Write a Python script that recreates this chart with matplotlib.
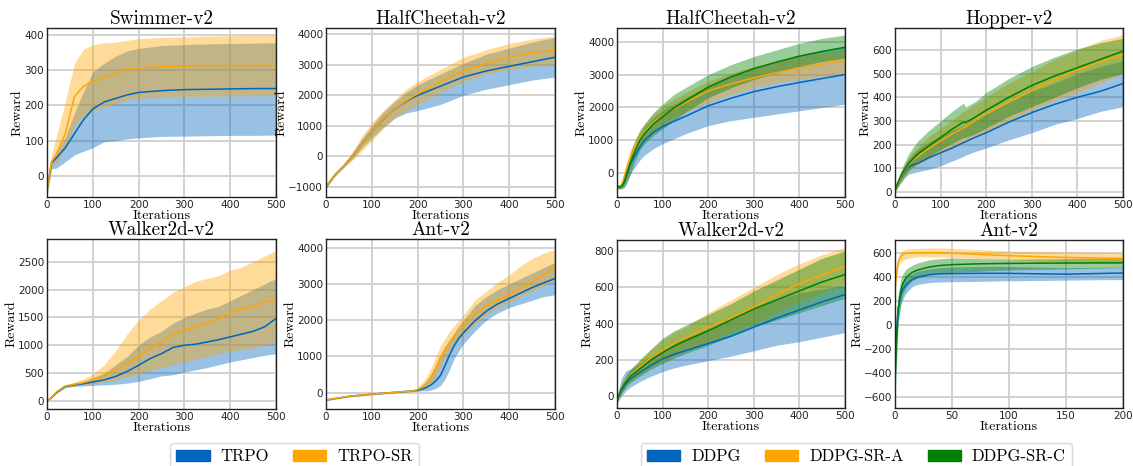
import numpy as np
import matplotlib
matplotlib.use("Agg")
import matplotlib.pyplot as plt
from matplotlib.patches import Patch

# colours
BLUE = "#0066bb"
ORANGE = "#ffa500"
GREEN = "#008000"

# ---- TRPO panels ----
sw_x = [0, 10, 20, 40, 60, 80, 100, 125, 150, 175, 200, 250, 300, 350, 400, 450, 500]
sw_trpo = [-40, 38, 50, 80, 120, 160, 190, 210, 220, 230, 237, 242, 245, 246, 247, 248, 248]
sw_trpo_lo = [-55, 20, 22, 40, 60, 70, 80, 97, 100, 105, 108, 112, 113, 114, 115, 115, 116]
sw_trpo_hi = [-25, 50, 65, 110, 180, 240, 295, 320, 340, 355, 362, 370, 373, 375, 376, 377, 378]
sw_sr = [-40, 40, 60, 120, 225, 255, 268, 280, 290, 303, 307, 310, 312, 313, 313, 314, 314]
sw_sr_lo = [-55, 25, 35, 80, 140, 170, 185, 195, 205, 215, 220, 224, 226, 226, 227, 227, 228]
sw_sr_hi = [-25, 60, 110, 210, 320, 360, 372, 378, 380, 385, 390, 393, 395, 397, 398, 399, 400]

hc_x = [0, 10, 20, 40, 60, 80, 100, 125, 150, 175, 200, 250, 300, 350, 400, 450, 500]
hc_trpo = [-1000, -800, -600, -300, 50, 450, 800, 1200, 1550, 1800, 2000, 2300, 2600, 2800, 2950, 3100, 3250]
hc_trpo_lo = [-1050, -850, -650, -350, -50, 300, 600, 950, 1250, 1420, 1500, 1700, 2000, 2200, 2350, 2500, 2600]
hc_trpo_hi = [-950, -750, -550, -250, 150, 600, 1000, 1450, 1800, 2100, 2350, 2700, 3050, 3350, 3550, 3750, 3900]
hc_sr = [-1000, -800, -600, -300, 50, 450, 800, 1200, 1550, 1820, 2050, 2450, 2800, 3050, 3250, 3400, 3480]
hc_sr_lo = [-1050, -850, -650, -350, -100, 200, 500, 900, 1250, 1500, 1700, 2100, 2450, 2700, 2850, 2950, 3000]
hc_sr_hi = [-950, -750, -550, -250, 200, 700, 1100, 1500, 1850, 2200, 2450, 2850, 3250, 3500, 3700, 3850, 3950]

wk_x = [0, 10, 20, 40, 60, 80, 100, 125, 150, 175, 200, 225, 250, 275, 300, 325, 350, 375, 400, 425, 450, 475, 500]
wk_trpo = [0, 60, 150, 260, 290, 310, 340, 380, 440, 530, 640, 760, 850, 960, 1000, 1020, 1060, 1100, 1150, 1200, 1250, 1330, 1480]
wk_trpo_lo = [0, 50, 130, 240, 260, 270, 280, 290, 300, 320, 350, 400, 450, 470, 520, 560, 600, 650, 700, 740, 780, 820, 850]
wk_trpo_hi = [0, 70, 170, 280, 320, 360, 420, 500, 650, 800, 1000, 1150, 1250, 1400, 1500, 1580, 1650, 1700, 1800, 1900, 2000, 2100, 2200]
wk_sr = [0, 60, 160, 270, 300, 330, 380, 450, 560, 680, 800, 950, 1050, 1200, 1280, 1330, 1400, 1480, 1580, 1650, 1700, 1780, 1820]
wk_sr_lo = [0, 50, 140, 250, 270, 290, 310, 340, 380, 430, 480, 550, 600, 650, 700, 750, 800, 850, 900, 920, 950, 1000, 1050]
wk_sr_hi = [0, 70, 180, 290, 340, 400, 480, 650, 900, 1200, 1450, 1650, 1800, 1950, 2050, 2150, 2200, 2250, 2350, 2400, 2500, 2600, 2700]

ant_x = [0, 25, 50, 100, 150, 190, 200, 210, 220, 230, 240, 250, 260, 270, 280, 290, 300,
         325, 350, 375, 400, 425, 450, 475, 500]
ant_trpo = [-200, -150, -100, -40, 10, 50, 70, 100, 150, 220, 330, 480, 750, 1050, 1300, 1500, 1650,
            1980, 2250, 2450, 2600, 2750, 2900, 3030, 3150]
ant_trpo_lo = [-220, -170, -120, -60, -10, 30, 40, 50, 50, 80, 120, 200, 380, 650, 950, 1150, 1350,
               1700, 2000, 2200, 2350, 2450, 2550, 2650, 2700]
ant_trpo_hi = [-180, -130, -80, -20, 30, 80, 130, 220, 300, 500, 750, 1000, 1250, 1450, 1650, 1850, 2000,
               2400, 2650, 2850, 3000, 3150, 3300, 3450, 3600]
ant_sr = [-200, -150, -100, -40, 10, 50, 90, 150, 280, 450, 700, 980, 1200, 1400, 1550, 1700, 1820,
          2150, 2400, 2550, 2700, 2900, 3050, 3250, 3450]
ant_sr_lo = [-220, -170, -120, -60, -10, 30, 60, 90, 120, 250, 450, 700, 950, 1150, 1300, 1450, 1600,
             1900, 2150, 2350, 2500, 2650, 2800, 2950, 3100]
ant_sr_hi = [-180, -130, -80, -20, 30, 80, 130, 280, 450, 700, 1000, 1300, 1500, 1700, 1850, 2000, 2150,
             2550, 2800, 3050, 3250, 3500, 3700, 3850, 3950]

# ---- DDPG panels ----
dhc_x = [0, 5, 10, 15, 20, 30, 40, 50, 60, 80, 100, 125, 150, 200, 250, 300, 350, 400, 450, 500]
dhc_ddpg = [-400, -420, -380, -250, -50, 300, 550, 800, 1000, 1250, 1420, 1580, 1730, 2050, 2280, 2480, 2630, 2760, 2880, 3000]
dhc_ddpg_lo = [-450, -470, -450, -400, -300, 0, 200, 400, 550, 750, 900, 1050, 1200, 1450, 1600, 1700, 1800, 1900, 2000, 2100]
dhc_ddpg_hi = [-350, -370, -300, -100, 200, 600, 900, 1150, 1400, 1700, 1900, 2100, 2300, 2650, 2950, 3200, 3400, 3600, 3750, 3850]
dhc_a = [-400, -420, -350, -150, 100, 500, 800, 1050, 1250, 1550, 1750, 1950, 2150, 2500, 2720, 2900, 3060, 3200, 3320, 3420]
dhc_a_lo = [-450, -480, -450, -300, -100, 250, 550, 800, 1000, 1300, 1500, 1700, 1850, 2150, 2400, 2600, 2750, 2850, 2950, 3000]
dhc_a_hi = [-350, -350, -250, 0, 300, 750, 1050, 1300, 1500, 1800, 2050, 2250, 2450, 2800, 3050, 3250, 3400, 3550, 3650, 3750]
dhc_c = [-400, -420, -400, -300, -100, 350, 700, 1000, 1200, 1500, 1720, 1980, 2200, 2620, 2930, 3180, 3380, 3560, 3700, 3830]
dhc_c_lo = [-450, -480, -480, -450, -350, 0, 400, 700, 900, 1150, 1350, 1600, 1850, 2300, 2600, 2850, 3050, 3250, 3400, 3500]
dhc_c_hi = [-350, -350, -300, -150, 150, 650, 1000, 1300, 1500, 1850, 2100, 2400, 2600, 3000, 3300, 3550, 3750, 3950, 4100, 4200]

hop_x = [0, 10, 20, 30, 40, 50, 75, 100, 125, 150, 155, 175, 200, 250, 300, 350, 400, 450, 500]
hop_ddpg = [10, 50, 80, 105, 115, 120, 145, 165, 185, 208, 212, 230, 250, 295, 335, 370, 400, 425, 458]
hop_ddpg_lo = [0, 30, 55, 75, 80, 85, 95, 110, 130, 150, 155, 170, 185, 220, 250, 285, 310, 340, 360]
hop_ddpg_hi = [20, 70, 110, 140, 160, 180, 210, 235, 260, 280, 285, 305, 330, 380, 425, 460, 500, 530, 555]
hop_a = [10, 50, 85, 115, 135, 150, 185, 215, 245, 270, 275, 300, 330, 380, 430, 475, 515, 550, 580]
hop_a_lo = [0, 30, 60, 85, 100, 115, 140, 165, 185, 205, 210, 230, 255, 300, 345, 385, 420, 460, 500]
hop_a_hi = [20, 70, 110, 145, 170, 190, 235, 270, 305, 340, 345, 370, 400, 460, 510, 560, 600, 640, 665]
hop_c = [10, 55, 90, 120, 140, 160, 195, 230, 265, 295, 293, 315, 345, 400, 450, 490, 525, 560, 595]
hop_c_lo = [0, 35, 65, 90, 105, 120, 150, 180, 205, 230, 230, 245, 270, 320, 360, 400, 440, 475, 500]
hop_c_hi = [20, 75, 120, 160, 190, 215, 260, 300, 340, 375, 360, 380, 420, 480, 530, 570, 605, 630, 650]

dwk_x = [0, 10, 20, 30, 50, 75, 100, 125, 150, 200, 250, 300, 350, 400, 450, 500]
dwk_ddpg = [-20, 30, 70, 95, 130, 170, 205, 230, 250, 290, 330, 380, 430, 475, 520, 560]
dwk_ddpg_lo = [-40, 0, 30, 50, 80, 110, 135, 155, 170, 195, 220, 250, 280, 300, 325, 350]
dwk_ddpg_hi = [0, 100, 140, 150, 180, 220, 260, 290, 320, 370, 420, 480, 530, 570, 590, 610]
dwk_a = [-20, 40, 85, 115, 160, 210, 250, 290, 320, 380, 430, 490, 560, 620, 670, 715]
dwk_a_lo = [-30, 20, 60, 85, 120, 160, 190, 220, 250, 300, 350, 400, 460, 520, 570, 620]
dwk_a_hi = [-10, 60, 110, 145, 200, 260, 310, 350, 380, 460, 530, 600, 670, 730, 780, 820]
dwk_c = [-20, 40, 80, 110, 150, 200, 240, 275, 305, 360, 420, 480, 530, 580, 630, 670]
dwk_c_lo = [-35, 15, 50, 75, 110, 150, 180, 210, 235, 280, 330, 380, 420, 460, 500, 540]
dwk_c_hi = [-5, 70, 115, 150, 200, 260, 320, 360, 390, 450, 510, 580, 640, 700, 760, 800]

dant_x = [0, 1, 2, 3, 5, 7, 10, 15, 20, 30, 40, 50, 75, 100, 125, 150, 175, 200]
dant_ddpg = [-400, -150, 50, 150, 250, 300, 340, 380, 400, 420, 428, 430, 432, 432, 428, 425, 430, 435]
dant_ddpg_lo = [-550, -300, -80, 50, 160, 220, 270, 320, 340, 355, 360, 362, 365, 370, 372, 375, 378, 380]
dant_ddpg_hi = [-250, 0, 150, 250, 330, 370, 400, 430, 450, 470, 480, 485, 490, 490, 485, 480, 482, 485]
dant_a = [300, 400, 480, 530, 570, 590, 600, 603, 605, 605, 603, 600, 590, 580, 572, 565, 560, 558]
dant_a_lo = [250, 350, 430, 480, 520, 540, 555, 565, 570, 570, 568, 565, 555, 545, 535, 528, 522, 518]
dant_a_hi = [350, 450, 530, 580, 610, 625, 635, 640, 640, 645, 645, 640, 630, 620, 615, 610, 608, 605]
dant_c = [-450, -200, 0, 150, 280, 350, 400, 440, 460, 485, 498, 505, 512, 515, 517, 518, 519, 520]
dant_c_lo = [-650, -400, -150, 30, 180, 260, 320, 370, 395, 420, 435, 440, 450, 460, 465, 470, 475, 480]
dant_c_hi = [-250, 0, 150, 270, 380, 430, 470, 500, 520, 545, 555, 560, 555, 550, 552, 555, 558, 560]

SERIF = "cmr10"


def draw_panel(ax, title, x, series, ylim, yticks, xlim=(0, 500), xticks=range(0, 501, 100)):
    for m, lo, hi, c in series:
        ax.fill_between(x, lo, hi, color=c, alpha=0.4, linewidth=0)
    for m, lo, hi, c in series:
        ax.plot(x, m, color=c, linewidth=1.1)
    ax.set_xlim(*xlim)
    ax.set_ylim(*ylim)
    ax.set_xticks(list(xticks))
    ax.set_yticks(yticks)
    ax.grid(True, color="#cfcfcf", linewidth=1.3)
    ax.set_axisbelow(True)
    ax.tick_params(length=0, pad=2, labelsize=7.5, colors="#222222")
    for s in ax.spines.values():
        s.set_color("#222222")
        s.set_linewidth(1.0)
    ax.set_title(title, fontfamily=SERIF, fontsize=13.8, pad=2)
    ax.set_xlabel("Iterations", fontfamily=SERIF, fontsize=10, labelpad=0)
    ax.set_ylabel("Reward", fontfamily=SERIF, fontsize=10, labelpad=0.5)


fig = plt.figure(figsize=(11.33, 4.66), dpi=100)
W, H = 1133.0, 466.0


def add_ax(left, top, right, bottom):
    return fig.add_axes([left / W, 1 - bottom / H, (right - left) / W, (bottom - top) / H])


ax1 = add_ax(47, 28, 276, 197)
ax2 = add_ax(326, 28, 555, 197)
ax3 = add_ax(617, 28, 845, 197)
ax4 = add_ax(895, 28, 1123, 197)
ax5 = add_ax(47, 239, 276, 409)
ax6 = add_ax(326, 239, 555, 409)
ax7 = add_ax(617, 240, 845, 408)
ax8 = add_ax(895, 240, 1123, 408)

draw_panel(ax1, "Swimmer-v2", sw_x,
           [(sw_trpo, sw_trpo_lo, sw_trpo_hi, BLUE), (sw_sr, sw_sr_lo, sw_sr_hi, ORANGE)],
           (-60, 420), [0, 100, 200, 300, 400])
draw_panel(ax2, "HalfCheetah-v2", hc_x,
           [(hc_trpo, hc_trpo_lo, hc_trpo_hi, BLUE), (hc_sr, hc_sr_lo, hc_sr_hi, ORANGE)],
           (-1340, 4210), [-1000, 0, 1000, 2000, 3000, 4000])
draw_panel(ax5, "Walker2d-v2", wk_x,
           [(wk_trpo, wk_trpo_lo, wk_trpo_hi, BLUE), (wk_sr, wk_sr_lo, wk_sr_hi, ORANGE)],
           (-144, 2907), [0, 500, 1000, 1500, 2000, 2500])
draw_panel(ax6, "Ant-v2", ant_x,
           [(ant_trpo, ant_trpo_lo, ant_trpo_hi, BLUE), (ant_sr, ant_sr_lo, ant_sr_hi, ORANGE)],
           (-450, 4240), [0, 1000, 2000, 3000, 4000])

draw_panel(ax3, "HalfCheetah-v2", dhc_x,
           [(dhc_ddpg, dhc_ddpg_lo, dhc_ddpg_hi, BLUE), (dhc_a, dhc_a_lo, dhc_a_hi, ORANGE),
            (dhc_c, dhc_c_lo, dhc_c_hi, GREEN)],
           (-720, 4415), [0, 1000, 2000, 3000, 4000])
draw_panel(ax4, "Hopper-v2", hop_x,
           [(hop_ddpg, hop_ddpg_lo, hop_ddpg_hi, BLUE), (hop_a, hop_a_lo, hop_a_hi, ORANGE),
            (hop_c, hop_c_lo, hop_c_hi, GREEN)],
           (-22, 693), [0, 100, 200, 300, 400, 500, 600])
draw_panel(ax7, "Walker2d-v2", dwk_x,
           [(dwk_ddpg, dwk_ddpg_lo, dwk_ddpg_hi, BLUE), (dwk_a, dwk_a_lo, dwk_a_hi, ORANGE),
            (dwk_c, dwk_c_lo, dwk_c_hi, GREEN)],
           (-66, 861), [0, 200, 400, 600, 800])
draw_panel(ax8, "Ant-v2", dant_x,
           [(dant_ddpg, dant_ddpg_lo, dant_ddpg_hi, BLUE), (dant_a, dant_a_lo, dant_a_hi, ORANGE),
            (dant_c, dant_c_lo, dant_c_hi, GREEN)],
           (-695, 711), [-600, -400, -200, 0, 200, 400, 600],
           xlim=(0, 200), xticks=range(0, 201, 50))

leg_kw = dict(loc="upper center", frameon=True, fancybox=True, edgecolor="#d0d0d0",
              prop={"family": SERIF, "size": 12}, handlelength=2.0, handleheight=0.65,
              handletextpad=0.65, columnspacing=1.45, borderpad=0.35, borderaxespad=0)
h1 = [Patch(color=BLUE, label="TRPO"), Patch(color=ORANGE, label="TRPO-SR")]
fig.legend(handles=h1, ncol=2, bbox_to_anchor=(294.5 / W, 1 - 443 / H), **leg_kw)
h2 = [Patch(color=BLUE, label="DDPG"), Patch(color=ORANGE, label="DDPG-SR-A"),
      Patch(color=GREEN, label="DDPG-SR-C")]
fig.legend(handles=h2, ncol=3, bbox_to_anchor=(856.5 / W, 1 - 443 / H), **leg_kw)

fig.savefig("out.png", dpi=100)
